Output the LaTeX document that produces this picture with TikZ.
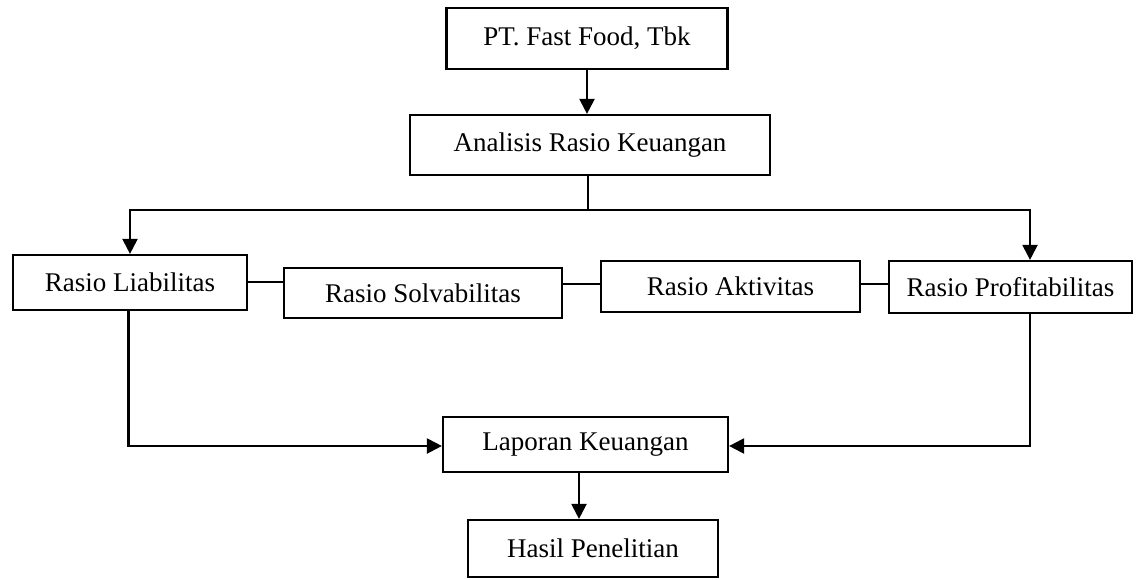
\documentclass[tikz,border=0pt]{standalone}
\usepackage{fontspec}
\setmainfont{Liberation Serif}
\usetikzlibrary{arrows.meta}
\begin{document}
\begin{tikzpicture}[x=1pt,y=-1pt,
  box/.style={draw,line width=2.2pt,inner sep=0pt,font=\fontsize{27}{30}\selectfont},
  link/.style={line width=2pt},
  arr/.style={line width=2.2pt,-{Triangle[width=15pt,length=15pt]}}]
\useasboundingbox (0,0) rectangle (1140,579);
\node[box,minimum width=281,minimum height=61] (pt) at (587,38.5) {PT. Fast Food, Tbk};
\node[box,minimum width=360,minimum height=60] (ana) at (590,145) {Analisis Rasio Keuangan};
\node[box,minimum width=234,minimum height=55] (liab) at (130,282.5) {Rasio Liabilitas};
\node[box,minimum width=278,minimum height=50] (solv) at (423,293) {Rasio Solvabilitas};
\node[box,minimum width=259,minimum height=51] (akt) at (730.5,286.5) {Rasio Aktivitas};
\node[box,minimum width=243,minimum height=52] (prof) at (1010.5,287) {Rasio Profitabilitas};
\node[box,minimum width=285,minimum height=55] (lap) at (585.5,444.5) {Laporan Keuangan};
\node[box,minimum width=250,minimum height=57] (has) at (593,548.5) {Hasil Penelitian};
\coordinate (split) at (588,210);
\coordinate (lft) at (130,210);
\coordinate (rgt) at (1030,210);
\coordinate (lb) at (128.5,446);
\coordinate (rb) at (1030,446);
\draw[arr] (pt.south) -- (pt.south |- ana.north);
\draw[link] (split |- ana.south) -- (split);
\draw[arr] (split) -- (lft) -- (lft |- liab.north);
\draw[arr] (split) -- (rgt) -- (rgt |- prof.north);
\draw[link] (liab.east |- 0,282) -- (solv.west |- 0,282);
\draw[link] (solv.east |- 0,284) -- (akt.west |- 0,284);
\draw[link] (akt.east |- 0,284) -- (prof.west |- 0,284);
\draw[arr] (lb |- liab.south) -- (lb) -- (lb -| lap.west);
\draw[arr] (rb |- prof.south) -- (rb) -- (rb -| lap.east);
\draw[arr] (lap.south -| 579,0) -- (has.north -| 579,0);
\end{tikzpicture}
\end{document}
